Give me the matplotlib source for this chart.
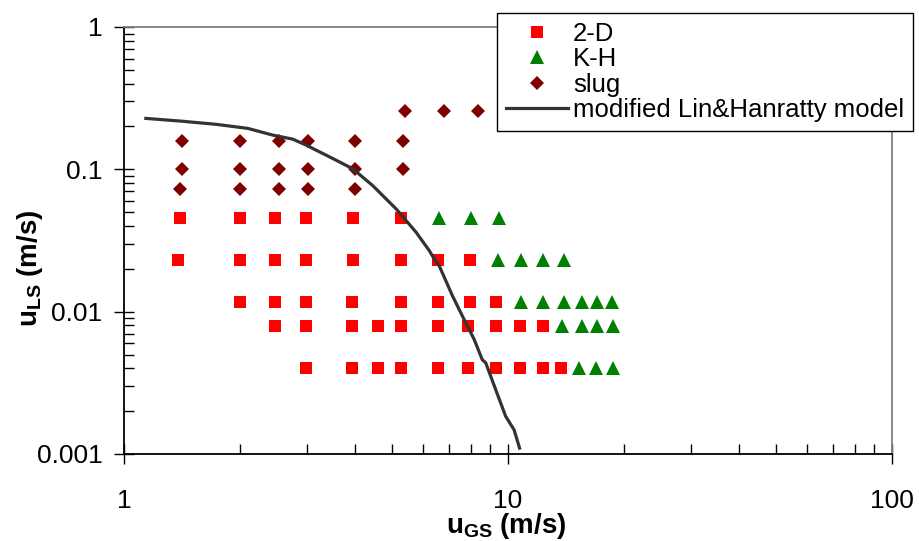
import matplotlib
matplotlib.use("Agg")
from matplotlib import pyplot as plt

plt.rcParams['font.family'] = ['Liberation Sans', 'DejaVu Sans']
plt.rcParams['mathtext.fontset'] = 'custom'
plt.rcParams['mathtext.rm'] = 'Liberation Sans'
plt.rcParams['mathtext.bf'] = 'Liberation Sans:bold'

# 2-D (squares), one list per liquid velocity level
twod_x = [1.40, 2.0, 2.47, 2.98, 3.95, 5.25,
          1.38, 2.0, 2.47, 2.98, 3.95, 5.25, 6.58, 7.96,
          2.0, 2.47, 2.98, 3.93, 5.25, 6.58, 7.96, 9.31,
          2.47, 2.98, 3.93, 4.59, 5.25, 6.58, 7.87, 9.31, 10.77, 12.3,
          2.98, 3.93, 4.59, 5.25, 6.58, 7.87, 9.31, 10.77, 12.3, 13.7]
twod_y = [0.0456] * 6 + [0.0231] * 8 + [0.0117] * 8 + [0.0079] * 10 + [0.0040] * 10

# K-H (triangles)
kh_x = [6.63, 8.03, 9.49,
        9.39, 10.8, 12.3, 13.96,
        10.8, 12.3, 13.96, 15.6, 17.1, 18.7,
        13.8, 15.6, 17.1, 18.8,
        15.3, 17.0, 18.8]
kh_y = [0.0456] * 3 + [0.0231] * 4 + [0.0117] * 6 + [0.0079] * 4 + [0.0040] * 3

# slug (diamonds)
slug_x = [5.4, 6.8, 8.34,
          1.42, 2.01, 2.53, 3.02, 3.99, 5.33,
          1.42, 2.01, 2.53, 3.02, 3.99, 5.33,
          1.40, 2.0, 2.53, 3.02, 3.99]
slug_y = [0.257] * 3 + [0.158] * 6 + [0.1] * 6 + [0.073] * 5

# modified Lin & Hanratty transition curve
model_x = [1.14, 1.41, 1.74, 2.10, 2.44, 2.75, 2.98, 3.50, 3.94, 4.44, 5.11,
           5.76, 6.24, 6.43, 6.62, 7.17, 7.61, 8.16, 8.57, 8.75, 9.29, 9.86,
           10.37, 10.72]
model_y = [0.228, 0.218, 0.207, 0.194, 0.174, 0.163, 0.148, 0.119, 0.101,
           0.077, 0.0528, 0.0362, 0.0268, 0.0234, 0.021, 0.0129, 0.0093,
           0.0064, 0.0046, 0.00437, 0.00283, 0.00184, 0.00148, 0.0011]

fig = plt.figure(figsize=(9.19, 5.41), dpi=100)
ax = fig.add_axes([124 / 919, 1 - 454 / 541, 768 / 919, 427 / 541])

ax.plot(twod_x, twod_y, ls='none', marker='s', ms=8.6, mew=0, color='#FF0000', label='2-D')
ax.plot(kh_x, kh_y, ls='none', marker='^', ms=9.6, mew=0, color='#008000', label='K-H')
ax.plot(slug_x, slug_y, ls='none', marker='D', ms=7.0, mew=0, color='#800000', label='slug')
ax.plot(model_x, model_y, color='#333333', lw=2.3, label='modified Lin&Hanratty model')

ax.set_xscale('log')
ax.set_yscale('log')
ax.set_xlim(1, 100)
ax.set_ylim(0.001, 1)
ax.set_xticks([1, 10, 100])
ax.set_xticklabels(['1', '10', '100'])
ax.set_yticks([0.001, 0.01, 0.1, 1])
ax.set_yticklabels(['0.001', '0.01', '0.1', '1'])

ax.tick_params(which='major', direction='inout', length=15, width=1, labelsize=19, pad=4)
ax.tick_params(axis='x', which='major', pad=18)
ax.tick_params(axis='y', which='major', pad=8)
ax.tick_params(which='minor', direction='in', length=7, width=1)

for s in ['left', 'bottom']:
    ax.spines[s].set_color('black')
    ax.spines[s].set_linewidth(1.3)
for s in ['top', 'right']:
    ax.spines[s].set_color('#808080')
    ax.spines[s].set_linewidth(1.3)

ax.set_xlabel(r'$\mathbf{u_{GS}}$ (m/s)', fontsize=20, fontweight='bold', va='center')
ax.set_ylabel(r'$\mathbf{u_{LS}}$ (m/s)', fontsize=20, fontweight='bold', va='center')
ax.xaxis.set_label_coords((506 - 124) / 768, (454 - 526) / 427)
ax.yaxis.set_label_coords((30 - 124) / 768, (454 - 268) / 427)

leg = ax.legend(loc='upper left', bbox_to_anchor=(497 / 919, 1 - 13 / 541),
                bbox_transform=fig.transFigure, fontsize=18.5, frameon=True,
                fancybox=False, edgecolor='black', framealpha=1,
                handlelength=2.4, handletextpad=0.2, labelspacing=0.05,
                borderpad=0.35, borderaxespad=0)
leg.get_frame().set_linewidth(1.0)

fig.savefig('out.png', dpi=100)
